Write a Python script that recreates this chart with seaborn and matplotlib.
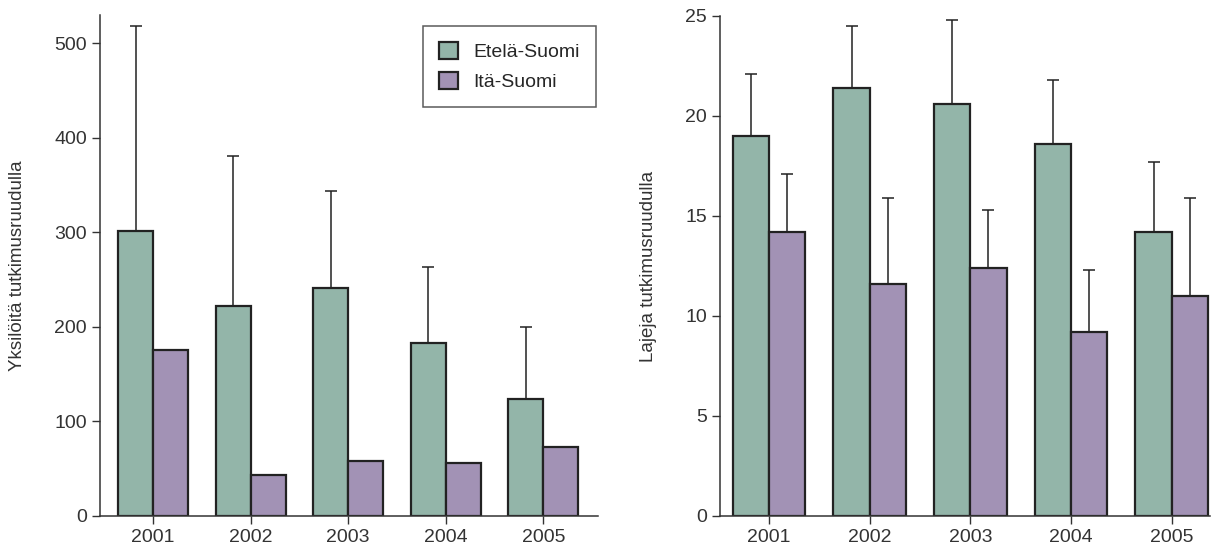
import numpy as np
import pandas as pd
import matplotlib
matplotlib.use("Agg")
import matplotlib.pyplot as plt
import seaborn as sns

# data
years = ["2001", "2002", "2003", "2004", "2005"]
groups = ["Etelä-Suomi", "Itä-Suomi"]

yks_etela = [301, 222, 241, 183, 124]
yks_etela_err = [518, 381, 344, 263, 200]   # top of error bar
yks_ita = [176, 43, 58, 56, 73]

laj_etela = [19.0, 21.4, 20.6, 18.6, 14.2]
laj_etela_err = [22.1, 24.5, 24.8, 21.8, 17.7]
laj_ita = [14.2, 11.6, 12.4, 9.2, 11.0]
laj_ita_err = [17.1, 15.9, 15.3, 12.3, 15.9]

colors = ["#93b5a9", "#a292b5"]

sns.set_style("ticks")
plt.rcParams['font.family'] = ['Liberation Sans Narrow', 'Liberation Sans', 'DejaVu Sans']

fig = plt.figure(figsize=(12.12, 5.47), dpi=100)
ax1 = fig.add_axes([100 / 1212, 1 - 516 / 547, 498 / 1212, 501 / 547])
ax2 = fig.add_axes([720 / 1212, 1 - 516 / 547, 490 / 1212, 500 / 547])


def draw(ax, etela, ita, tops, ylabel, legend):
    df = pd.DataFrame({
        "vuosi": years * 2,
        "alue": [groups[0]] * 5 + [groups[1]] * 5,
        "arvo": list(etela) + list(ita),
    })
    sns.barplot(data=df, x="vuosi", y="arvo", hue="alue", palette=colors,
                width=0.72, errorbar=None, edgecolor="#222222", linewidth=1.6,
                ax=ax, legend=legend, saturation=1)
    # upper error bars only
    for cont, top in zip(ax.containers, tops):
        if top is None:
            continue
        xs = [b.get_x() + b.get_width() / 2 for b in cont]
        hs = [b.get_height() for b in cont]
        up = [t - h for t, h in zip(top, hs)]
        ax.errorbar(xs, hs, yerr=[np.zeros(len(hs)), up], fmt="none",
                    ecolor="#222222", elinewidth=1.1, capsize=4, capthick=1.1,
                    zorder=1)
    ax.set_xlabel("")
    ax.set_ylabel(ylabel, fontsize=13.5, labelpad=20, color="#333333")
    sns.despine(ax=ax)
    ax.tick_params(axis="both", labelsize=14, length=6, width=1,
                   color="#333333", labelcolor="#333333")
    for s in ["left", "bottom"]:
        ax.spines[s].set_linewidth(1.1)
        ax.spines[s].set_color("#333333")


draw(ax1, yks_etela, yks_ita, [yks_etela_err, None],
     "Yksilöitä tutkimusruudulla", True)
ax1.set_ylim(0, 530)
ax1.set_yticks([0, 100, 200, 300, 400, 500])
ax1.set_xlim(-0.544, 4.56)
leg = ax1.legend(loc="upper right", bbox_to_anchor=(1.015, 0.997), fontsize=14,
                 frameon=True, fancybox=False, edgecolor="#333333",
                 handlelength=1.0, handleheight=1.0, borderpad=0.8,
                 labelspacing=0.55, handletextpad=0.8)
leg.get_frame().set_linewidth(1.1)

draw(ax2, laj_etela, laj_ita, [laj_etela_err, laj_ita_err],
     "Lajeja tutkimusruudulla", False)
ax2.set_ylim(0, 25)
ax2.set_yticks([0, 5, 10, 15, 20, 25])
ax2.set_xlim(-0.486, 4.38)

fig.savefig("out.png", dpi=100)
